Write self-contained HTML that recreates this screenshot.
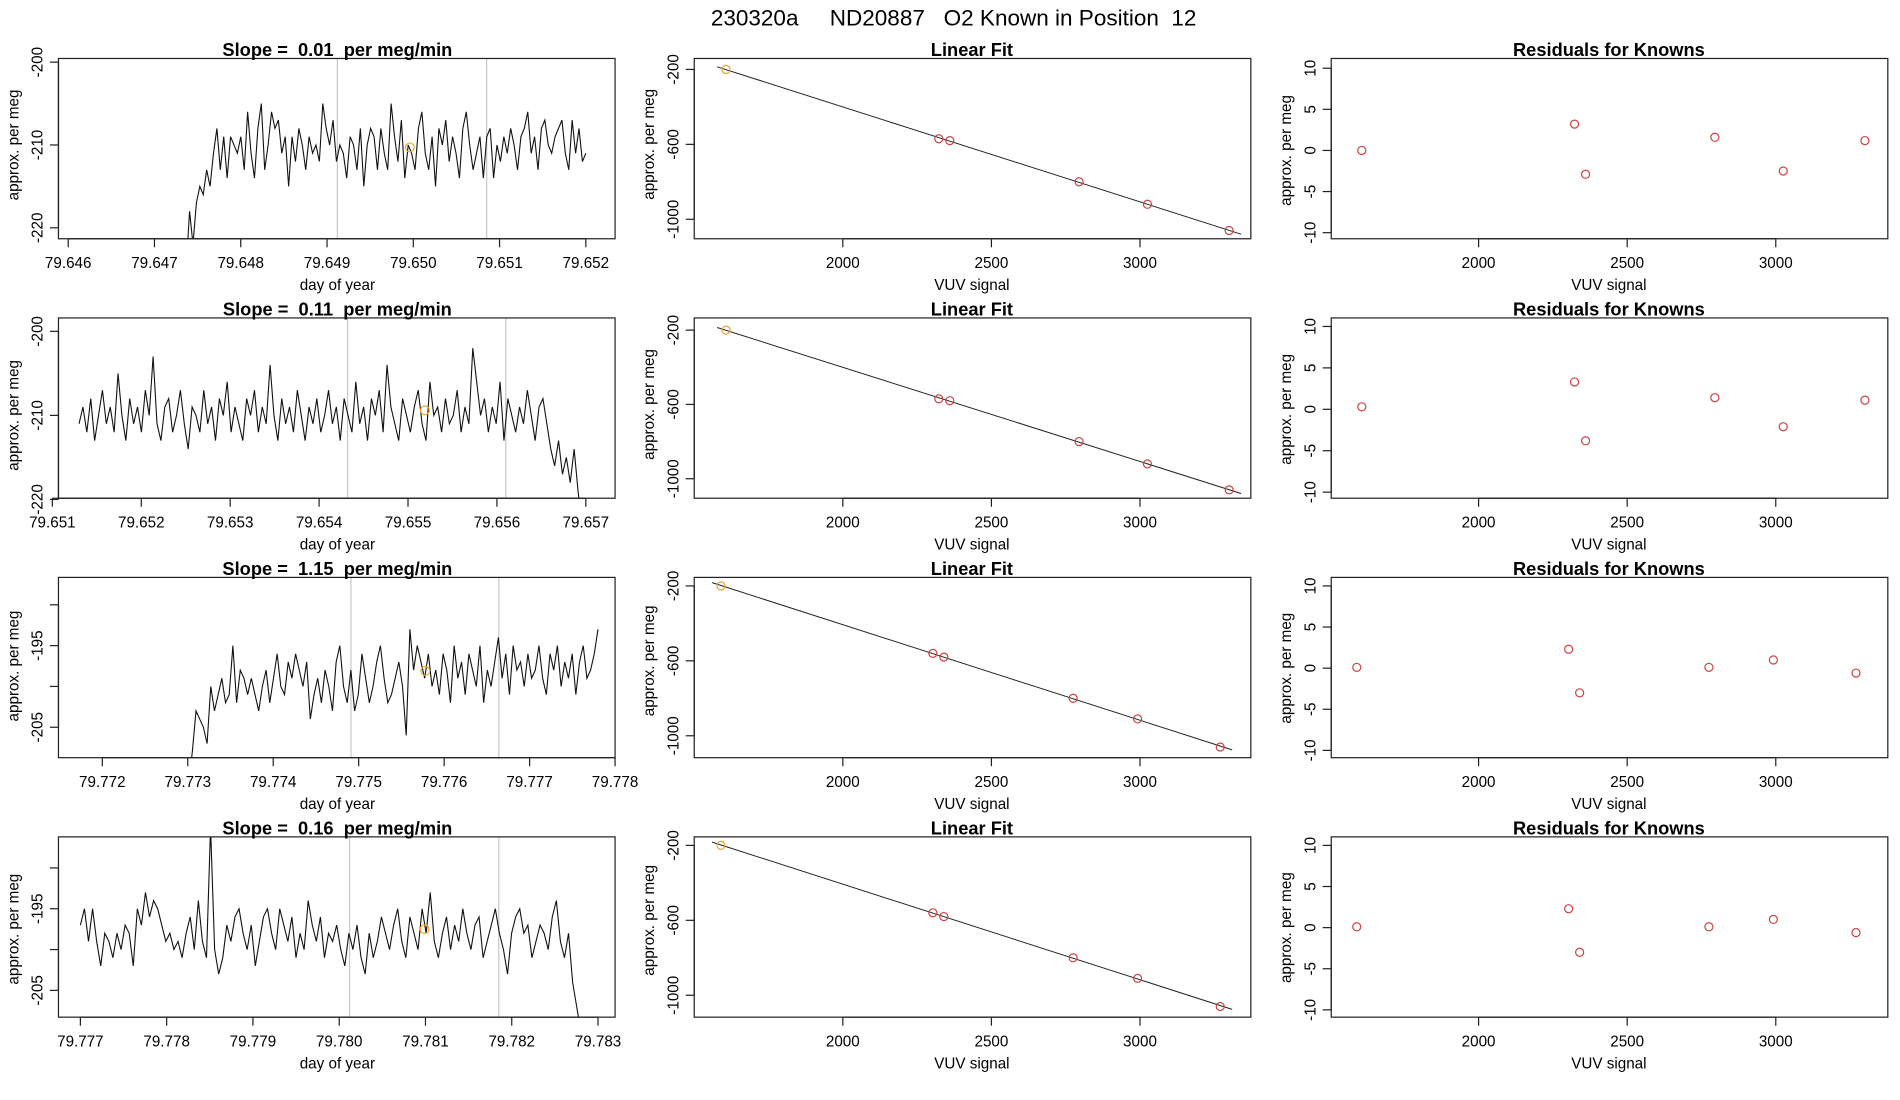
<!DOCTYPE html>
<html><head><meta charset="utf-8"><style>
html,body{margin:0;padding:0;background:#fff;}
svg{display:block;font-family:"Liberation Sans",sans-serif;}
</style></head><body>
<svg id="chart" width="1900" height="1100" viewBox="0 0 1560 903" preserveAspectRatio="none" xmlns="http://www.w3.org/2000/svg">
<text x="783" y="21" font-size="18.5" text-anchor="middle" xml:space="preserve">230320a     ND20887   O2 Known in Position  12</text>
</svg>
<script>
// ---- Time series data (approx. per meg) ----
const ts1Start = 79.6461, ts1End = 79.6520;
const ts1Values = [-225,-225,-225,-225,-225,-225,-225,-225,-225,-225,-225,-225,-225,-225,-225,-225,-225,-225,-225,-225,-225,-225,-225,-225,-225,-225,-225,-225,-225,-225,-225,-225,-225,-218,-222,-217,-215,-216,-213,-215,-211,-208,-213,-209,-214,-209,-210,-211,-209,-213,-206,-211,-214,-208,-205,-213,-210,-206,-208,-207,-211,-209,-215,-209,-212,-208,-210,-213,-209,-211,-210,-212,-205,-208,-210,-207,-212,-210,-211,-214,-209,-210,-213,-208,-215,-210,-208,-209,-213,-208,-211,-213,-205,-209,-212,-207,-214,-210,-211,-213,-208,-206,-211,-213,-209,-215,-208,-210,-207,-212,-209,-211,-214,-208,-206,-210,-213,-211,-209,-214,-209,-208,-214,-210,-212,-209,-211,-208,-210,-213,-209,-208,-206,-211,-209,-213,-208,-207,-210,-211,-209,-208,-207,-211,-213,-207,-211,-208,-212,-211];
const ts2Start = 79.6513, ts2End = 79.6570;
const ts2Values = [-211,-209,-212,-208,-213,-210,-207,-211,-209,-212,-205,-210,-213,-208,-211,-209,-212,-207,-210,-203,-211,-213,-209,-208,-212,-210,-207,-211,-214,-209,-210,-212,-207,-211,-209,-213,-208,-210,-206,-212,-209,-211,-213,-208,-210,-207,-212,-209,-211,-204,-210,-213,-208,-211,-209,-212,-207,-210,-213,-209,-211,-208,-212,-210,-207,-211,-209,-213,-208,-210,-212,-206,-211,-209,-213,-208,-210,-207,-212,-204,-209,-211,-213,-208,-210,-212,-209,-207,-211,-213,-206,-210,-209,-212,-208,-211,-210,-207,-212,-209,-211,-202,-206,-210,-208,-212,-209,-211,-206,-213,-208,-210,-212,-209,-211,-207,-210,-213,-209,-208,-211,-214,-216,-213,-217,-215,-218,-214,-219,-223,-225];
const ts3Start = 79.7715, ts3End = 79.7778;
const ts3Values = [-212,-212,-212,-212,-212,-212,-212,-212,-212,-212,-212,-212,-212,-212,-212,-212,-212,-212,-212,-212,-212,-212,-212,-212,-212,-212,-212,-212,-212,-212,-212,-212,-212,-212,-212,-212,-208,-203,-204,-205,-207,-200,-203,-201,-199,-202,-201,-195,-202,-198,-199,-201,-199,-201,-203,-200,-198,-202,-199,-196,-200,-201,-197,-199,-196,-198,-200,-197,-204,-201,-199,-202,-198,-200,-203,-197,-195,-200,-202,-198,-203,-201,-196,-199,-202,-200,-197,-195,-199,-202,-201,-199,-197,-200,-206,-193,-198,-195,-197,-199,-196,-200,-198,-201,-196,-198,-202,-195,-199,-197,-201,-196,-198,-200,-195,-202,-198,-200,-197,-194,-199,-196,-201,-195,-198,-197,-200,-196,-199,-198,-195,-199,-201,-196,-198,-195,-200,-197,-199,-196,-201,-197,-195,-199,-198,-196,-193];
const ts4Start = 79.7770, ts4End = 79.7828;
const ts4Values = [-197,-195,-199,-195,-199,-202,-198,-199,-201,-198,-200,-197,-198,-202,-195,-197,-193,-196,-194,-195,-197,-199,-198,-200,-199,-201,-198,-196,-200,-194,-199,-201,-185,-200,-203,-201,-197,-199,-196,-195,-198,-200,-197,-202,-199,-196,-195,-198,-200,-195,-197,-199,-196,-201,-198,-200,-194,-197,-199,-196,-201,-198,-199,-197,-200,-202,-198,-200,-197,-201,-203,-198,-201,-199,-196,-198,-200,-197,-195,-199,-201,-196,-198,-200,-195,-198,-193,-199,-201,-198,-196,-200,-197,-199,-195,-198,-200,-197,-196,-201,-199,-197,-195,-198,-200,-203,-198,-196,-195,-198,-197,-201,-199,-197,-198,-200,-196,-194,-199,-201,-198,-204,-207,-210];

// ---- Linear fit data (VUV signal vs per meg) ----
const fitX12 = [1607, 2323, 2360, 2795, 3025, 3300];
const fitY12 = [-200, -570, -580, -800, -920, -1060];
const fitX34 = [1590, 2303, 2340, 2775, 2992, 3270];
const fitY34 = [-200, -560, -580, -800, -910, -1060];

// ---- Residuals ----
const resid1 = [0, 3.2, -2.9, 1.6, -2.5, 1.2];
const resid2 = [0.3, 3.3, -3.8, 1.4, -2.1, 1.1];
const resid3 = [0.1, 2.3, -3.0, 0.1, 1.0, -0.6];
const resid4 = [0.1, 2.3, -3.0, 0.1, 1.0, -0.6];

// ---- Labels ----
const slopeLabels = ["0.01", "0.11", "1.15", "0.16"];
const tsTicks1 = ["79.646","79.647","79.648","79.649","79.650","79.651","79.652"];
const tsTicks2 = ["79.651","79.652","79.653","79.654","79.655","79.656","79.657"];
const tsTicks3 = ["79.772","79.773","79.774","79.775","79.776","79.777","79.778"];
const tsTicks4 = ["79.777","79.778","79.779","79.780","79.781","79.782","79.783"];
const vuvTicks = [2000, 2500, 3000];
const fitYTicks = [-200, -600, -1000];
const residTicks = [10, 5, 0, -5, -10];

const svg = document.getElementById('chart');
const NS = 'http://www.w3.org/2000/svg';
function mk(tag, attrs, parent) {
  const e = document.createElementNS(NS, tag);
  for (const k in attrs) e.setAttribute(k, attrs[k]);
  (parent || svg).appendChild(e);
  return e;
}
function lin(d0, p0, d1, p1) { return v => p0 + (v - d0) * (p1 - p0) / (d1 - d0); }

const rowTop = [48, 261, 474, 687];
const rowH = 148;
const cols = [[48, 505], [570, 1027], [1093, 1550]];
const FS = 12.5;

function frame(g, x0, x1, y0, y1) {
  const r = mk('rect', {x: x0, y: y0, width: x1 - x0, height: y1 - y0, fill: 'none', stroke: '#222', 'stroke-width': 1}, g);
  
  
}
function title(g, txt, cx, y) {
  const t = mk('text', {x: cx, y: y, 'font-size': 15, 'font-weight': 'bold', 'text-anchor': 'middle'}, g);
  t.setAttributeNS('http://www.w3.org/XML/1998/namespace', 'xml:space', 'preserve');
  t.style.whiteSpace = 'pre';
  t.textContent = txt;
  
  
}
function xAxis(g, ticks, labels, sx, yb, xlab, cx) {
  const a = mk('g', {}, g);
  
  
  mk('line', {x1: sx(ticks[0]), x2: sx(ticks[ticks.length - 1]), y1: yb, y2: yb, stroke: '#222'}, a);
  ticks.forEach((t, i) => {
    mk('line', {x1: sx(t), x2: sx(t), y1: yb, y2: yb + 7, stroke: '#222'}, a);
    const tx = mk('text', {x: sx(t), y: yb + 24, 'font-size': FS, 'text-anchor': 'middle'}, a);
    tx.textContent = labels[i];
    
    
  });
  const xl = mk('text', {x: cx, y: yb + 42, 'font-size': FS, 'text-anchor': 'middle'}, a);
  xl.textContent = xlab;
  
  
}
function yAxis(g, ticks, labels, sy, xl, labX) {
  const a = mk('g', {}, g);
  
  
  mk('line', {x1: xl, x2: xl, y1: sy(ticks[0]), y2: sy(ticks[ticks.length - 1]), stroke: '#222'}, a);
  ticks.forEach((t, i) => {
    mk('line', {x1: xl - 7, x2: xl, y1: sy(t), y2: sy(t), stroke: '#222'}, a);
    if (labels[i] !== '') {
      const tx = mk('text', {x: 0, y: 0, 'font-size': FS, 'text-anchor': 'middle', transform: `translate(${xl - 13},${sy(t)}) rotate(-90)`}, a);
      tx.textContent = labels[i];
      
      
    }
  });
  const yt = mk('text', {x: 0, y: 0, 'font-size': FS, 'text-anchor': 'middle', transform: `translate(${labX},${(sy(ticks[0]) + sy(ticks[ticks.length - 1])) / 2 + 0}) rotate(-90)`}, a);
  yt.textContent = 'approx. per meg';
  
  
}

const tsCfg = [
  {start: ts1Start, end: ts1End, vals: ts1Values, labels: tsTicks1, t0: 79.646, p0: 56, t1: 79.652, p1: 481, v0: -200, q0: 51, v1: -220, q1: 187, yt: [-200, -210, -220], yl: ['-200', '-210', '-220'], orange: [79.64996, -210.3], gray: [79.64912, 79.65085]},
  {start: ts2Start, end: ts2End, vals: ts2Values, labels: tsTicks2, t0: 79.651, p0: 43, t1: 79.657, p1: 481, v0: -200, q0: 272, v1: -220, q1: 410, yt: [-200, -210, -220], yl: ['-200', '-210', '-220'], orange: [79.65519, -209.4], gray: [79.65432, 79.65610]},
  {start: ts3Start, end: ts3End, vals: ts3Values, labels: tsTicks3, t0: 79.772, p0: 84, t1: 79.778, p1: 505, v0: -195, q0: 530, v1: -205, q1: 597, yt: [-190, -195, -200, -205], yl: ['', '-195', '', '-205'], orange: [79.77578, -198.1], gray: [79.77491, 79.77664]},
  {start: ts4Start, end: ts4End, vals: ts4Values, labels: tsTicks4, t0: 79.777, p0: 66, t1: 79.783, p1: 491, v0: -195, q0: 746, v1: -205, q1: 813, yt: [-190, -195, -200, -205], yl: ['', '-195', '', '-205'], orange: [79.78099, -197.5], gray: [79.78012, 79.78185]},
];

tsCfg.forEach((c, r) => {
  const y0 = rowTop[r], y1 = y0 + rowH, [x0, x1] = cols[0];
  const g = mk('g', {});
  
  
  const sx = lin(c.t0, c.p0, c.t1, c.p1), sy = lin(c.v0, c.q0, c.v1, c.q1);
  const clipId = 'clip' + r;
  const cp = mk('clipPath', {id: clipId}, g);
  mk('rect', {x: x0, y: y0, width: x1 - x0, height: y1 - y0}, cp);
  c.gray.forEach(t => {
    const l = mk('line', {x1: sx(t), x2: sx(t), y1: y0, y2: y1, stroke: '#c8c8c8', 'stroke-width': 1}, g);
    
    
  });
  const n = c.vals.length, dt = (c.end - c.start) / (n - 1);
  const pts = c.vals.map((v, i) => `${sx(c.start + i * dt).toFixed(2)},${sy(v).toFixed(2)}`).join(' ');
  const pl = mk('polyline', {points: pts, fill: 'none', stroke: '#111', 'stroke-width': 0.9, 'clip-path': `url(#${clipId})`}, g);
  
  
  const oc = mk('circle', {cx: sx(c.orange[0]), cy: sy(c.orange[1]), r: 3.6, fill: 'none', stroke: '#f5a623', 'stroke-width': 1}, g);
  
  
  frame(g, x0, x1, y0, y1);
  title(g, `Slope =  ${slopeLabels[r]}  per meg/min`, 277, y0 - 2);
  const ticks = c.labels.map(Number);
  xAxis(g, ticks, c.labels, sx, y1, 'day of year', 277);
  yAxis(g, c.yt, c.yl, sy, x0, 15);
});

const fitYAnch = [[57, 180], [271, 393], [481, 604], [694, 817]];
const fitSets = [[fitX12, fitY12], [fitX12, fitY12], [fitX34, fitY34], [fitX34, fitY34]];
const residSets = [resid1, resid2, resid3, resid4];
const residAnch = [[56, 191], [268, 404], [481, 616], [694, 829]];
fitSets.forEach(([fx, fy], r) => {
  const y0 = rowTop[r], y1 = y0 + rowH, [x0, x1] = cols[1];
  const g = mk('g', {});
  
  
  const sx = lin(2000, 692, 3000, 936), sy = lin(-200, fitYAnch[r][0], -1000, fitYAnch[r][1]);
  const n = fx.length, mx = fx.reduce((a, b) => a + b) / n, my = fy.reduce((a, b) => a + b) / n;
  let sxy = 0, sxx = 0; fx.forEach((x, i) => { sxy += (x - mx) * (fy[i] - my); sxx += (x - mx) ** 2; });
  const b = sxy / sxx, a = my - b * mx;
  const xa = fx[0] - 30, xb = fx[n - 1] + 40;
  const fl = mk('line', {x1: sx(xa), y1: sy(a + b * xa), x2: sx(xb), y2: sy(a + b * xb), stroke: '#222', 'stroke-width': 0.8}, g);
  
  
  fx.forEach((x, i) => {
    const c = mk('circle', {cx: sx(x), cy: sy(fy[i]), r: 3.3, fill: 'none', stroke: i === 0 ? '#e8a33a' : '#cc4444', 'stroke-width': 1}, g);
    
    
  });
  frame(g, x0, x1, y0, y1);
  title(g, 'Linear Fit', 798, y0 - 2);
  xAxis(g, vuvTicks, vuvTicks.map(String), sx, y1, 'VUV signal', 798);
  yAxis(g, fitYTicks, fitYTicks.map(String), sy, x0, 537);

  const [rx0, rx1] = cols[2];
  const g2 = mk('g', {});
  
  
  const sx2 = lin(2000, 1214, 3000, 1458), sy2 = lin(10, residAnch[r][0], -10, residAnch[r][1]);
  residSets[r].forEach((v, i) => {
    const c = mk('circle', {cx: sx2(fx[i]), cy: sy2(v), r: 3.3, fill: 'none', stroke: '#cc4444', 'stroke-width': 1}, g2);
    
    
  });
  frame(g2, rx0, rx1, y0, y1);
  title(g2, 'Residuals for Knowns', 1321, y0 - 2);
  xAxis(g2, vuvTicks, vuvTicks.map(String), sx2, y1, 'VUV signal', 1321);
  yAxis(g2, residTicks, residTicks.map(String), sy2, rx0, 1060);
});
</script>
</body></html>
